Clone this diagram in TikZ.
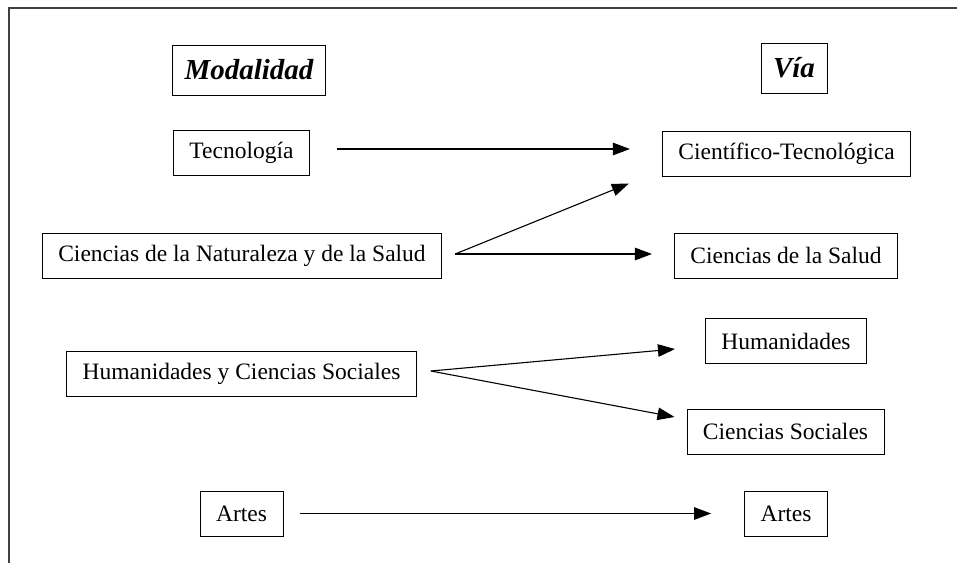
\documentclass[tikz,border=0pt]{standalone}
\usepackage{fontspec}
\setmainfont{Liberation Serif}
\usetikzlibrary{arrows.meta,positioning}

\tikzset{
  caja/.style={draw, line width=0.9pt, minimum height=45pt, inner xsep=16pt, font=\fontsize{23.5}{28}\selectfont},
  cabecera/.style={draw, line width=0.9pt, minimum height=50pt, inner xsep=12pt, font=\fontsize{29}{33}\selectfont\bfseries\itshape},
  flecha/.style={line width=1.1pt, -{Triangle[length=17pt,width=12.5pt]}}
}

\begin{document}
\begin{tikzpicture}[x=1pt,y=-1pt]
  \useasboundingbox (0,0) rectangle (957,563);
% Marco
  \draw[line width=1.3pt, black!75] (9,563) -- (9,8) -- (957,8);
% Cabeceras
  \node[cabecera] (modalidad) at (249,70) {Modalidad};
  \node[cabecera] (via) at (794,68) {Vía};
% Modalidades
  \node[caja] (tec) at (241.5,152.5) {Tecnología};
  \node[caja] (nat) at (242,256) {Ciencias de la Naturaleza y de la Salud};
  \node[caja] (hum) at (241.5,373.5) {Humanidades y Ciencias Sociales};
  \node[caja] (art) at (241.5,513.5) {Artes};
% Vias
  \node[caja] (cyt) at (786.5,153.5) {Científico-Tecnológica};
  \node[caja] (sal) at (786,255.5) {Ciencias de la Salud};
  \node[caja] (hmn) at (786,341) {Humanidades};
  \node[caja] (soc) at (785.5,431.5) {Ciencias Sociales};
  \node[caja] (arv) at (786,513.5) {Artes};
% Extremos de las flechas
  \coordinate (tec-out) at ([xshift=27pt,yshift=3.5pt]tec.east);
  \coordinate (cyt-in) at ([xshift=-32pt,yshift=4.5pt]cyt.west);
  \coordinate (nat-out) at ([xshift=13pt,yshift=2pt]nat.east);
  \coordinate (cyt-low) at ([xshift=-33pt,yshift=-30pt]cyt.west);
  \coordinate (sal-in) at ([xshift=-22pt,yshift=1.5pt]sal.west);
  \coordinate (hum-out) at ([xshift=14pt,yshift=2.5pt]hum.east);
  \coordinate (hmn-in) at ([xshift=-30pt,yshift=-8pt]hmn.west);
  \coordinate (soc-in) at ([xshift=-12pt,yshift=14.5pt]soc.west);
  \coordinate (art-out) at ([xshift=17pt]art.east);
  \coordinate (arv-in) at ([xshift=-33pt]arv.west);
% Flechas
  \draw[flecha] (tec-out) -- (cyt-in);
  \draw[flecha] (nat-out) -- (cyt-low);
  \draw[flecha] (nat-out) -- (sal-in);
  \draw[flecha] (hum-out) -- (hmn-in);
  \draw[flecha] (hum-out) -- (soc-in);
  \draw[flecha] (art-out) -- (arv-in);
\end{tikzpicture}
\end{document}
